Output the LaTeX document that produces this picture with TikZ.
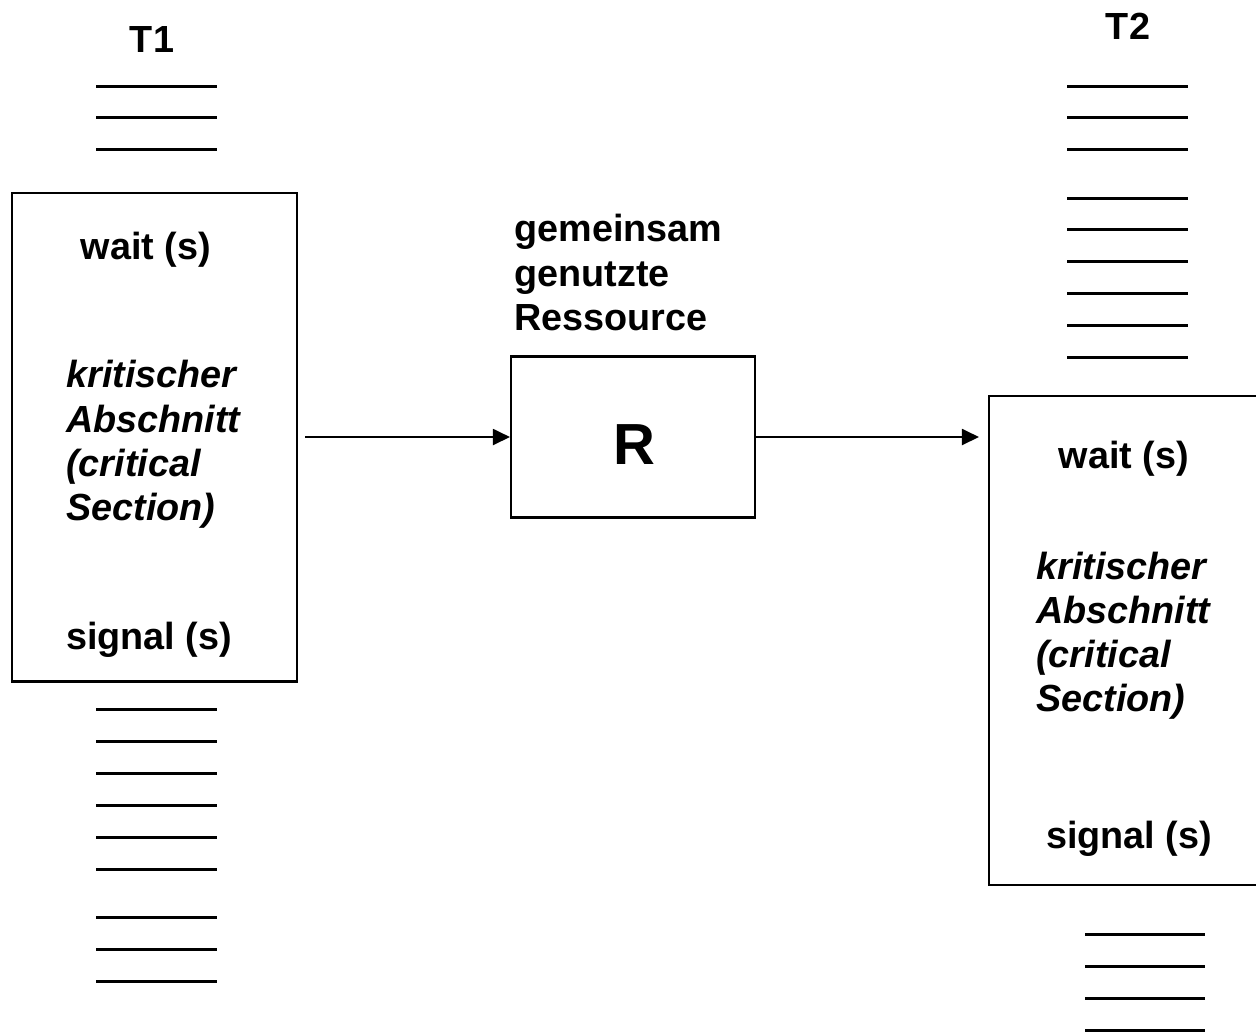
\documentclass[tikz,border=0pt]{standalone}
\usepackage{fontspec}
\setmainfont{Liberation Sans}
\usetikzlibrary{arrows.meta}
\usetikzlibrary{positioning}
\tikzset{
	>={Triangle[length=0.34cm,width=0.32cm]},
	taskbox/.style={
		rectangle,
		draw=black, line width=1.2pt,
		inner sep=0pt},
	resbox/.style={taskbox},
	label/.style={
		font=\fontsize{21.5}{25.2}\selectfont\bfseries,
		inner sep=0pt},
	crit/.style={
		label,
		font=\fontsize{21.5}{25.2}\selectfont\bfseries\itshape,
		align=left},
	bigletter/.style={
		font=\fontsize{33}{33}\selectfont\bfseries,
		inner sep=0pt},
	codeline/.style={line width=1.7pt},
	flow/.style={->, line width=1.1pt},
}

\begin{document}
\begin{tikzpicture}[x=0.02cm, y=-0.02cm]
	\useasboundingbox (0,0) rectangle (1256,1032);
	\clip (0,0) rectangle (1256,1032);
	% boxes
	\node[taskbox, minimum width=5.70cm, minimum height=9.78cm] (box1) at (154.5,437) {};
	\node[resbox, minimum width=4.88cm, minimum height=3.22cm] (res) at (633,437) {};
	\node[taskbox, minimum width=6cm, minimum height=9.78cm] (box2) at (1139,640.5) {};
	% task T1
	\node[label, anchor=base] (t1) at (152,52) {T1};
	\foreach \y in {86,117,149,709,741,773,805,837,869,917,949,981}
		\draw[codeline] (96,\y) -- (217,\y);
	\node[label, anchor=base] (wait1) at (146,259) {wait (s)};
	\node[crit, anchor=south west] (crit1) at (66,529) {kritischer\\Abschnitt\\(critical\\Section)};
	\node[label, anchor=base] (signal1) at (149,649) {signal (s)};
	% resource
	\node[label, align=left, anchor=south west] (shared) at (514,331) {gemeinsam\\genutzte\\Ressource};
	\node[bigletter] (rletter) at (634,445) {R};
	% task T2
	\node[label, anchor=base] (t2) at (1128,39.5) {T2};
	\foreach \y in {86,117,149,198,229,261,293,325,357}
		\draw[codeline] (1067,\y) -- (1188,\y);
	\foreach \y in {934,966,998,1030}
		\draw[codeline] (1085,\y) -- (1205,\y);
	\node[label, anchor=base] (wait2) at (1124,468) {wait (s)};
	\node[crit, anchor=south west] (crit2) at (1036,720) {kritischer\\Abschnitt\\(critical\\Section)};
	\node[label, anchor=base] (signal2) at (1129,848) {signal (s)};
	% connectors
	\draw[flow, shorten <=0.14cm] (box1.east) -- (res.west);
	\draw[flow, shorten >=0.18cm] (res.east) -- (res.east -| box2.west);
\end{tikzpicture}
\end{document}
